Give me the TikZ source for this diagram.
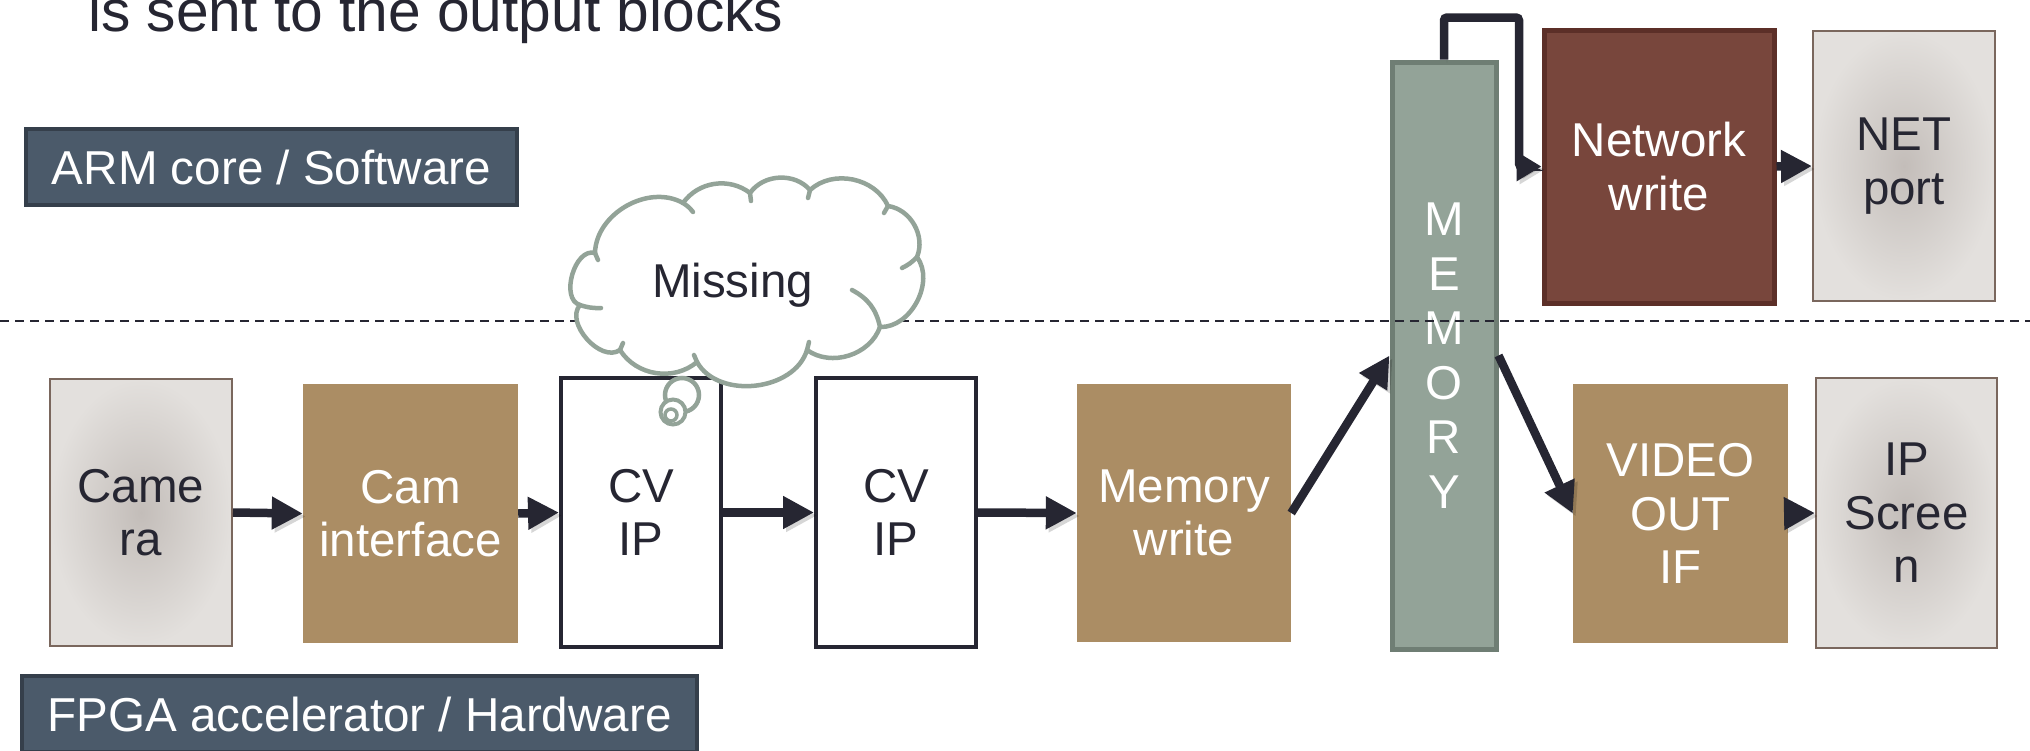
\documentclass[tikz,border=0pt]{standalone}
\usepackage{fontspec}
\setmainfont{Liberation Sans}
\usetikzlibrary{arrows.meta}

\definecolor{ink}{HTML}{262632}
\definecolor{slate}{HTML}{4B5A6A}
\definecolor{slateedge}{HTML}{353F4B}
\definecolor{tan}{HTML}{AB8D64}
\definecolor{sage}{HTML}{93A398}
\definecolor{sageedge}{HTML}{6F7E74}
\definecolor{brick}{HTML}{78463C}
\definecolor{brickedge}{HTML}{5C2F28}
\definecolor{greyin}{HTML}{C3BDB9}
\definecolor{greyout}{HTML}{E3E0DD}
\definecolor{greyedge}{HTML}{7A675D}

\tikzset{
  txt/.style={font=\fontsize{47.5}{53.5}\selectfont, align=center, inner sep=0pt},
  banner/.style={fill=slate, draw=slateedge, line width=4pt, text=white,
    font=\fontsize{47.6}{53.5}\selectfont, inner sep=0pt},
  device/.style={txt, draw=greyedge, line width=2pt, inner color=greyin,
    outer color=greyout, text=ink},
  logic/.style={txt, fill=tan, text=white},
  ipbox/.style={txt, draw=ink, line width=4pt, fill=white, text=ink},
  flow/.style={draw=ink, line width=8.5pt,
    -{Triangle[length=31pt,width=31pt]},
    preaction={draw=black, opacity=0.16,
      transform canvas={shift={(3pt,-3pt)}}}},
  puff/.style={draw=sage, line width=4.5pt, line cap=round},
}

\begin{document}
\begin{tikzpicture}[x=1pt,y=-1pt]
\useasboundingbox (0,0) rectangle (2030,750);

% heading line
\node[anchor=base west, inner sep=0pt, text=ink,
  font=\fontsize{58.7}{60}\selectfont] (title) at (88,31)
  {is sent to the output blocks};

% layer banners
\node[banner, minimum width=491pt, minimum height=76pt] (arm) at (271.5,167)
  {ARM core / Software};
\node[banner, minimum width=675pt, minimum height=76pt] (fpga) at (359.5,714)
  {FPGA accelerator / Hardware};

% shared memory column
\node[txt, fill=sage, draw=sageedge, line width=5pt, text=white,
  font=\fontsize{47.5}{54.5}\selectfont,
  minimum width=104pt, minimum height=587pt] (mem) at (1444,355.5)
  {M\\E\\M\\O\\R\\Y};

% software / hardware boundary
\coordinate (sepL) at (0,321);
\coordinate (sepR) at (2030,321);
\draw[ink, line width=2.2pt, dash pattern=on 9pt off 6pt] (sepL) -- (sepR);

% hardware pipeline
\node[device, minimum width=182pt, minimum height=267pt] (cam) at (141,512.5)
  {Came\\ra};
\node[logic, minimum width=215pt, minimum height=259pt] (camif) at (410.5,513.5)
  {Cam\\interface};
\node[ipbox, minimum width=160pt, minimum height=269pt] (cva) at (641,512.5)
  {CV\\IP};
\node[ipbox, minimum width=160pt, minimum height=269pt] (cvb) at (896,512.5)
  {CV\\IP};
\node[logic, minimum width=214pt, minimum height=258pt] (mw) at (1184,513)
  {Memory\\write};
\node[logic, minimum width=215pt, minimum height=259pt] (vid) at (1680.5,513.5)
  {VIDEO\\OUT\\IF};
\node[device, minimum width=181pt, minimum height=270pt] (ips) at (1906.5,513)
  {IP\\Scree\\n};

% software side
\node[txt, fill=brick, draw=brickedge, line width=5pt, text=white,
  minimum width=230pt, minimum height=273pt] (nw) at (1659,166.5)
  {Network\\write};
\node[device, minimum width=182pt, minimum height=270pt] (netp) at (1904,166)
  {NET\\port};

% data flow
\draw[flow] (cam.east) -- (camif.west);
\draw[flow] (camif.east) -- (cva.west);
\draw[flow] (cva.east) -- (cvb.west);
\draw[flow] (cvb.east) -- (mw.west);
\draw[flow] (mw.east) -- (mem.west);
\draw[flow] (mem.east) -- (vid.west);
\draw[flow] (vid.east) -- (ips.west);
\draw[flow] (nw.east) -- (netp.west);
\draw[flow, rounded corners=3pt, -{Triangle[length=25pt,width=28pt]}]
  (mem.north) |- (1519,17.5) -- (1519,166.5) -- (nw.west);

% thought bubble over the first CV block
\draw[puff, fill=white] (682,395) circle[radius=17];
\draw[puff, line width=4pt, fill=white] (673,412) circle[radius=12.5];
\draw[puff, line width=3.5pt] (671,415) circle[radius=6];

% cloud outline, one arc per puff
\draw[puff, fill=white, line join=round]
  (595,253) to[bend left=59] (683,203) to[bend left=46] (750,193)
  to[bend left=52] (810,190) to[bend left=54] (888,206)
  to[bend left=52] (917,257) to[bend left=64] (880,327)
  to[bend left=53] (807,350) to[bend left=67] (697,362)
  to[bend left=49] (620,350) to[bend left=83] (580,305)
  to[bend left=90] cycle;
% short inner traces where the puffs meet
\draw[puff] (683,203) to[bend left=10] (693,212);
\draw[puff] (750,193) -- (751,201);
\draw[puff] (810,190) -- (808,198);
\draw[puff] (888,206) -- (884,213);
\draw[puff] (917,257) to[bend left=10] (902,268);
\draw[puff] (880,327) to[bend right=25] (852,290);
\draw[puff] (807,350) -- (809,342);
\draw[puff] (697,362) -- (694,355);
\draw[puff] (620,350) -- (623,343);
\draw[puff] (580,305) to[bend right=10] (601,308);
\draw[puff] (595,253) -- (598,260);

\node[anchor=base, inner sep=0pt, text=ink,
  font=\fontsize{47.5}{53.5}\selectfont] (miss) at (732.5,297) {Missing};
\end{tikzpicture}
\end{document}
